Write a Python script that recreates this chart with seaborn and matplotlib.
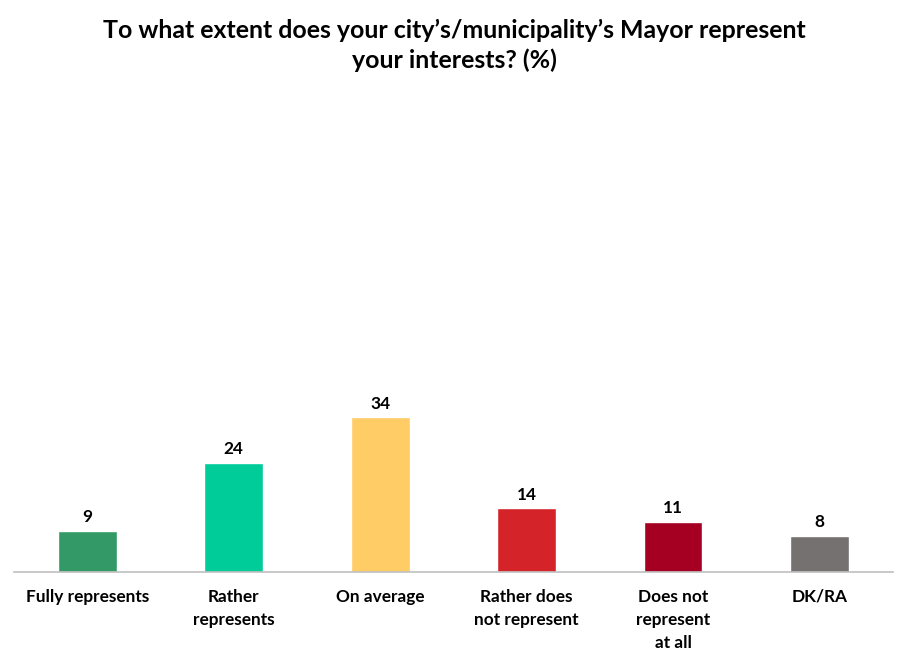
import matplotlib
matplotlib.use("Agg")
import matplotlib.pyplot as plt
import pandas as pd
import seaborn as sns

# Chart data
categories = [
    "Fully represents",
    "Rather\nrepresents",
    "On average",
    "Rather does\nnot represent",
    "Does not\nrepresent\nat all",
    "DK/RA",
]
values = [9, 24, 34, 14, 11, 8]
colors = ["#339966", "#00CC99", "#FFCC66", "#D42429", "#A50021", "#767171"]
title = "To what extent does your city\u2019s/municipality\u2019s Mayor represent\nyour interests? (%)"

sns.set_style("white")
plt.rcParams["font.family"] = ["Lato", "DejaVu Sans"]

df = pd.DataFrame({"category": categories, "value": values})

fig = plt.figure(figsize=(9.08, 6.6), dpi=100)
ax = fig.add_axes([0.0154, 0.1333, 0.968, 0.69])

sns.barplot(data=df, x="category", y="value", hue="category",
            palette=colors, width=0.4, legend=False, ax=ax, saturation=1)

ax.set_ylim(0, 100)
ax.set_xlim(-0.5, len(categories) - 0.5)

for i, v in enumerate(values):
    ax.annotate(str(v), (i, v), xytext=(0, 4), textcoords="offset points",
                ha="center", va="bottom", fontsize=12.4, fontweight="bold",
                color="#000000")

ax.set_xlabel("")
ax.set_ylabel("")
ax.set_yticks([])
ax.tick_params(axis="x", length=0, pad=12)
for lbl in ax.get_xticklabels():
    lbl.set_fontsize(12.4)
    lbl.set_fontweight("bold")
    lbl.set_color("#000000")
    lbl.set_linespacing(1.55)
    lbl.set_verticalalignment("top")

for side in ["top", "right", "left"]:
    ax.spines[side].set_visible(False)
ax.spines["bottom"].set_color("#BFBFBF")
ax.spines["bottom"].set_linewidth(1.2)

fig.text(0.5, 0.972, title, ha="center", va="top", fontsize=17.9,
         fontweight="bold", linespacing=1.35, color="#000000")

fig.savefig("out.png", dpi=100)
